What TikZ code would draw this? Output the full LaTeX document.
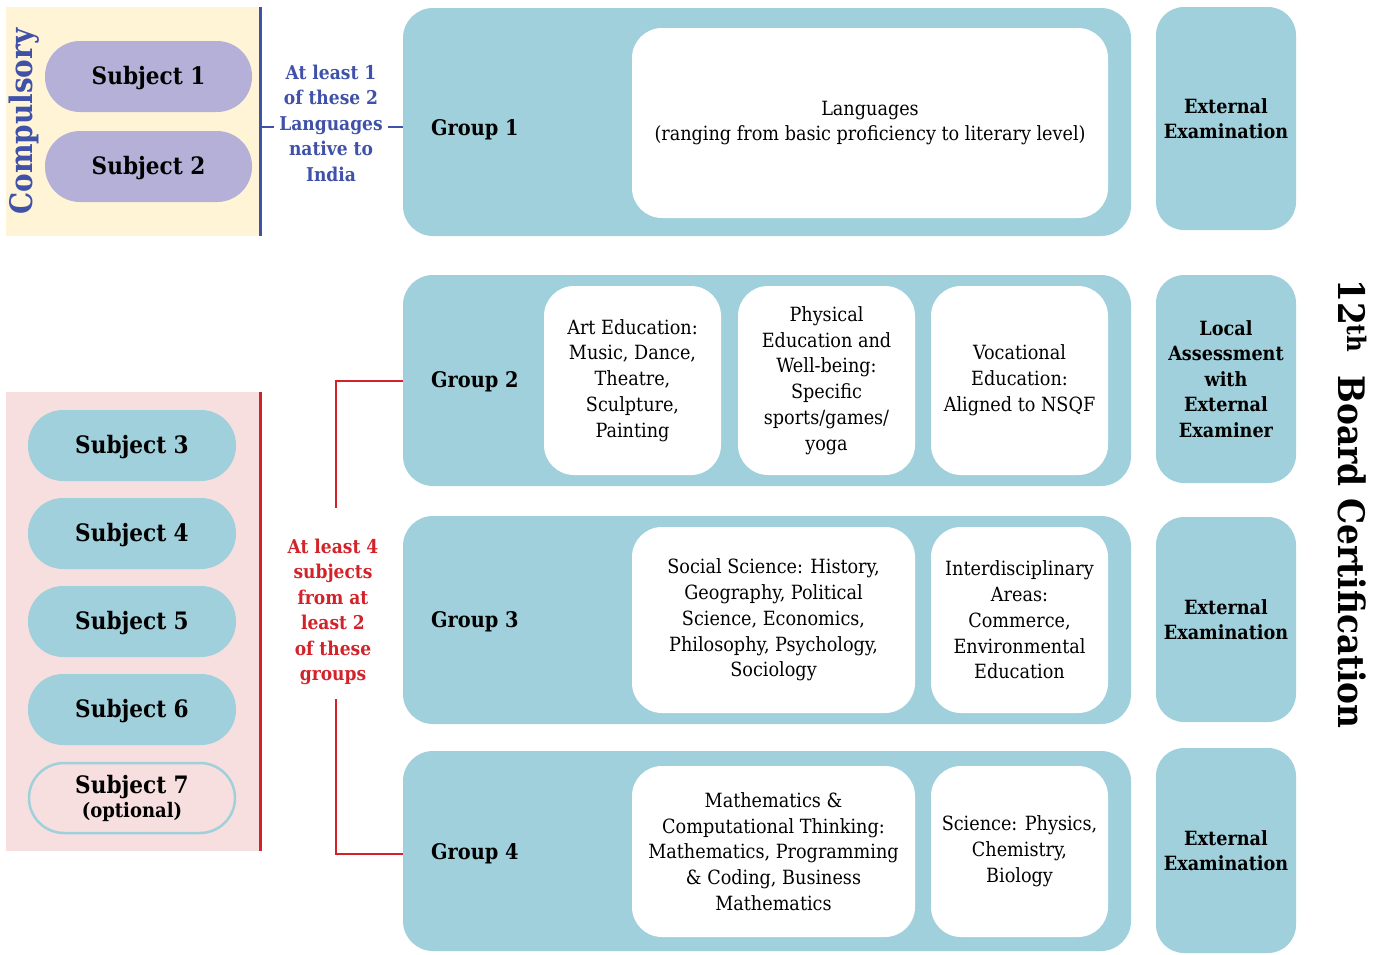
\documentclass[tikz,border=0pt]{standalone}
\usepackage{fontspec}
\setmainfont{DejaVu Serif Condensed}
\definecolor{teal}{RGB}{160,208,219}
\definecolor{lav}{RGB}{180,176,216}
\definecolor{cream}{RGB}{255,244,214}
\definecolor{pinkbg}{RGB}{247,222,223}
\definecolor{blu}{RGB}{63,81,168}
\definecolor{rd}{RGB}{210,35,42}
\tikzset{
  grp/.style={fill=teal, draw=none, rounded corners=30pt},
  wbox/.style={fill=white, draw=none, rounded corners=30pt, align=center, font=\fontsize{19.6}{25.8}\selectfont, inner sep=0pt, execute at begin node={\rule{0pt}{21pt}}},
  ext/.style={fill=teal, draw=none, rounded corners=28pt, minimum width=140pt, align=center, font=\bfseries\fontsize{19.6}{25.5}\selectfont, inner sep=0pt},
  pill/.style={draw=none, rounded corners=35pt, font=\bfseries\fontsize{24}{26}\selectfont, inner sep=0pt, align=center},
  onepill/.style={pill, text height=22pt, text depth=5.5pt},
  glabel/.style={anchor=west, font=\bfseries\fontsize{21.5}{24}\selectfont, inner sep=0pt},
  sidetxt/.style={align=center, font=\bfseries\fontsize{19}{25.5}\selectfont, inner sep=0pt},
}
\begin{document}
\begin{tikzpicture}[x=1pt,y=-1pt]
\useasboundingbox (0,0) rectangle (1382,954);
% background panels
\node[fill=cream, minimum width=254pt, minimum height=229pt, inner sep=0pt] (comp) at (133,121.5) {};
\node[fill=pinkbg, minimum width=254pt, minimum height=459pt, inner sep=0pt] (opt) at (133,621.5) {};
\draw[blu, line width=3pt] (comp.north east) -- (comp.south east);
\draw[rd, line width=3pt] (opt.north east) -- (opt.south east);
\node[rotate=90, text=blu, font=\bfseries\fontsize{31}{31}\selectfont, inner sep=0pt] (comptxt) at (24,121.5) {Compulsory};
% subjects
\node[onepill, fill=lav, minimum width=207pt, minimum height=71pt] (s1) at (148.5,76.5) {Subject 1};
\node[onepill, fill=lav, minimum width=207pt, minimum height=71pt] (s2) at (148.5,166.5) {Subject 2};
\node[onepill, fill=teal, minimum width=208pt, minimum height=71pt] (s3) at (132,445.5) {Subject 3};
\node[onepill, fill=teal, minimum width=208pt, minimum height=71pt] (s4) at (132,533.5) {Subject 4};
\node[onepill, fill=teal, minimum width=208pt, minimum height=71pt] (s5) at (132,621.5) {Subject 5};
\node[onepill, fill=teal, minimum width=208pt, minimum height=71pt] (s6) at (132,709.5) {Subject 6};
\node[pill, draw=teal, line width=2.5pt, fill=pinkbg, minimum width=206pt, minimum height=70pt] (s7) at (132,798) {Subject 7\\[-2pt]{\fontsize{20}{22}\selectfont(optional)}};
% groups
\node[grp, minimum width=728pt, minimum height=228pt] (g1) at (767,122) {};
\node[grp, minimum width=728pt, minimum height=211pt] (g2) at (767,380.5) {};
\node[grp, minimum width=728pt, minimum height=208pt] (g3) at (767,620) {};
\node[grp, minimum width=728pt, minimum height=200pt] (g4) at (767,851) {};
\node[glabel] (g1l) at (431,130) {Group 1};
\node[glabel] (g2l) at (431,382) {Group 2};
\node[glabel] (g3l) at (431,622) {Group 3};
\node[glabel] (g4l) at (431,854) {Group 4};
% white boxes
\node[wbox, minimum width=476pt, minimum height=190pt] (w1) at (870,123) {Languages\\(ranging from basic proficiency to literary level)};
\node[wbox, minimum width=177pt, minimum height=189pt] (w2a) at (632.5,380.5) {Art Education:\\Music, Dance,\\Theatre,\\Sculpture,\\Painting};
\node[wbox, minimum width=177pt, minimum height=189pt] (w2b) at (826.5,380.5) {Physical\\Education and\\Well-being:\\Specific\\sports/games/\\yoga};
\node[wbox, minimum width=177pt, minimum height=189pt] (w2c) at (1019.5,380.5) {Vocational\\Education:\\Aligned to NSQF};
\node[wbox, minimum width=283pt, minimum height=186pt] (w3a) at (773.5,620) {Social Science: History,\\Geography, Political\\Science, Economics,\\Philosophy, Psychology,\\Sociology};
\node[wbox, minimum width=177pt, minimum height=186pt] (w3b) at (1019.5,620) {Interdisciplinary\\Areas:\\Commerce,\\Environmental\\Education};
\node[wbox, minimum width=283pt, minimum height=171pt] (w4a) at (773.5,851.5) {Mathematics \&\\Computational Thinking:\\Mathematics, Programming\\\& Coding, Business\\Mathematics};
\node[wbox, minimum width=177pt, minimum height=171pt] (w4b) at (1019.5,851.5) {Science: Physics,\\Chemistry,\\Biology};
% right boxes
\node[ext, minimum height=223pt] (e1) at (1226,118.5) {External\\Examination};
\node[ext, minimum height=208pt] (e2) at (1226,379) {Local\\Assessment\\with\\External\\Examiner};
\node[ext, minimum height=205pt] (e3) at (1226,619.5) {External\\Examination};
\node[ext, minimum height=205pt] (e4) at (1226,850.5) {External\\Examination};
\node[rotate=-90, font=\bfseries\fontsize{36.5}{36}\selectfont, inner sep=0pt] (cert) at (1352,504) {12\textsuperscript{th}\ \ Board Certification};
% side texts
\node[sidetxt, text=blu] (bt) at (331,123) {At least 1\\of these 2\\Languages\\native to\\India};
\node[sidetxt, text=rd] (rt) at (333,612) {At least 4\\subjects\\from at\\least 2\\of these\\groups};
% connectors
\coordinate (bl1) at (comp.east |- 0,127);
\coordinate (bl2) at (274,127);
\coordinate (bl3) at (388,127);
\draw[blu, line width=2.5pt] (bl1) -- (bl2);
\draw[blu, line width=2.5pt] (bl3) -- (g1.west |- bl3);
\coordinate (rtop) at (336,508);
\coordinate (rbot) at (336,699);
\draw[rd, line width=2pt] (g2.west) -| (rtop);
\draw[rd, line width=2pt] (g4.west |- 0,854) -| (rbot);
\end{tikzpicture}
\end{document}
